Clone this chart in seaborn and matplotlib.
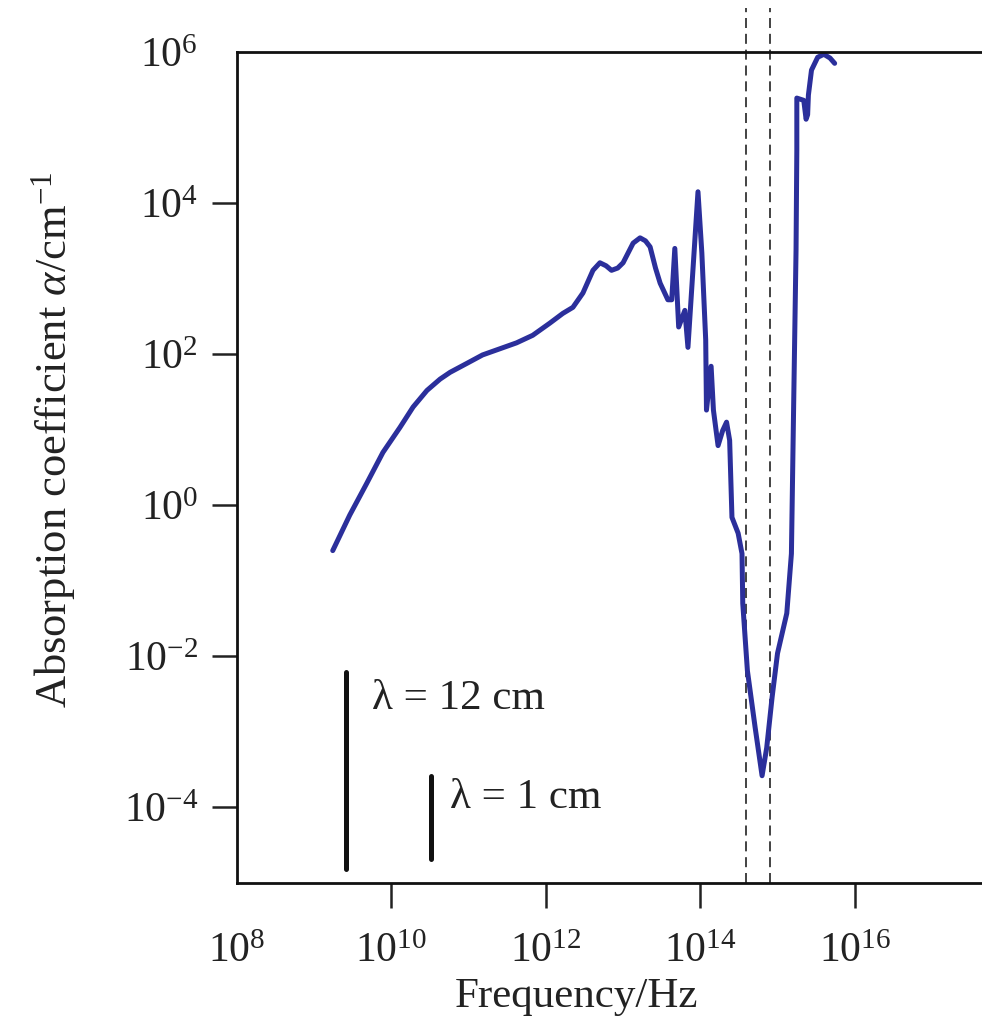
import numpy as np
import matplotlib
matplotlib.use("Agg")
import matplotlib.pyplot as plt
import matplotlib.ticker as mticker
import seaborn as sns

# absorption curve as log10 values
log_freq = [9.24, 9.46, 9.68, 9.89, 10.11, 10.28, 10.46, 10.63, 10.76, 10.98,
            11.18, 11.40, 11.62, 11.83, 12.05, 12.22, 12.35, 12.48, 12.61, 12.70,
            12.78, 12.85, 12.93, 13.00, 13.13, 13.22, 13.29, 13.35, 13.42, 13.48,
            13.58, 13.63, 13.67, 13.72, 13.80, 13.84, 13.97, 14.02, 14.07, 14.08,
            14.14, 14.17, 14.23, 14.29, 14.34, 14.38, 14.41, 14.49, 14.54, 14.55,
            14.61, 14.71, 14.80, 14.86, 14.93, 15.00, 15.12, 15.18, 15.21, 15.24,
            15.25, 15.25, 15.34, 15.37, 15.39, 15.40, 15.44, 15.52, 15.60, 15.68,
            15.74]
log_alpha = [-0.60, -0.13, 0.29, 0.70, 1.03, 1.30, 1.52, 1.67, 1.76, 1.88,
             1.99, 2.07, 2.15, 2.25, 2.41, 2.54, 2.62, 2.81, 3.11, 3.21,
             3.17, 3.11, 3.14, 3.21, 3.47, 3.54, 3.50, 3.42, 3.14, 2.94,
             2.72, 2.72, 3.40, 2.36, 2.58, 2.09, 4.15, 3.34, 2.19, 1.26,
             1.84, 1.26, 0.79, 0.99, 1.10, 0.86, -0.16, -0.37, -0.64, -1.30,
             -2.19, -2.94, -3.58, -3.21, -2.54, -1.96, -1.43, -0.64, 1.39, 3.38,
             4.70, 5.39, 5.36, 5.11, 5.17, 5.43, 5.76, 5.93, 5.97, 5.92,
             5.85]

# visible band edges (Hz)
visible_edges = [3.85e14, 7.9e14]

# microwave wavelength markers
marker_freq = [2.55e9, 3.3e10]
marker_low = [10**-4.82, 10**-4.68]
marker_high = [10**-2.21, 10**-3.59]
marker_text = ["λ = 12 cm", "λ = 1 cm"]
marker_text_x = [5.6e9, 5.8e10]
marker_text_y = [10**-2.56, 10**-3.87]

xticks = [1e8, 1e10, 1e12, 1e14, 1e16]
yticks = [1e-4, 1e-2, 1e0, 1e2, 1e4, 1e6]

sns.set_style("ticks")
plt.rcParams["font.family"] = ["Liberation Serif", "DejaVu Serif"]
plt.rcParams["mathtext.fontset"] = "custom"
plt.rcParams["mathtext.rm"] = "Liberation Serif"
plt.rcParams["mathtext.it"] = "Liberation Serif:italic"
plt.rcParams["mathtext.bf"] = "Liberation Serif:bold"

fig = plt.figure(figsize=(9.82, 10.25), dpi=100)
ax = fig.add_axes([237 / 982, 1 - 883 / 1025, (986 - 237) / 982, (883 - 52) / 1025])
ax.set_xscale("log")
ax.set_yscale("log")

freq = np.power(10.0, log_freq)
alpha = np.power(10.0, log_alpha)
sns.lineplot(x=freq, y=alpha, sort=False, estimator=None, color="#2b2f9b",
             lw=3.6, ax=ax, solid_joinstyle="round", solid_capstyle="round")

ax.vlines(visible_edges, 1e-5, 10**6.58, colors="#222222", linestyles=(0, (6, 3.5)),
          lw=1.2, clip_on=False, zorder=1)

ax.vlines(marker_freq, marker_low, marker_high, colors="#111111", lw=3.6,
          capstyle="round")
for tx, ty, s in zip(marker_text_x, marker_text_y, marker_text):
    ax.text(tx, ty, s, fontsize=31, va="center", ha="left", color="#222222")

ax.set_xlim(1e8, 10**17.7)
ax.set_ylim(1e-5, 1e6)
ax.xaxis.set_major_locator(mticker.FixedLocator(xticks))
ax.yaxis.set_major_locator(mticker.FixedLocator(yticks))
ax.xaxis.set_minor_locator(mticker.NullLocator())
ax.yaxis.set_minor_locator(mticker.NullLocator())
ax.xaxis.set_major_formatter(mticker.LogFormatterMathtext())
ax.yaxis.set_major_formatter(mticker.LogFormatterMathtext())
ax.tick_params(axis="both", direction="out", length=18, width=1.8,
               labelsize=30, colors="#222222")
ax.tick_params(axis="y", pad=10)
ax.tick_params(axis="x", pad=18)
# no tick marks at the corners
for t in ax.xaxis.get_major_ticks()[:1]:
    t.tick1line.set_visible(False)
for t in ax.yaxis.get_major_ticks()[-1:]:
    t.tick1line.set_visible(False)

for side in ["left", "bottom", "top", "right"]:
    ax.spines[side].set_linewidth(2.0)
    ax.spines[side].set_color("#111111")

ax.set_xlabel("Frequency/Hz", fontsize=31, color="#222222")
ax.set_ylabel(r"Absorption coefficient $\alpha$/cm$^{-1}$", fontsize=32, color="#222222")
ax.xaxis.set_label_coords((577 - 237) / (986 - 237), -(978 - 883) / (883 - 52))
ax.yaxis.set_label_coords(-(237 - 78) / (986 - 237), (883 - 440) / (883 - 52))

fig.savefig("out.png", dpi=100)
